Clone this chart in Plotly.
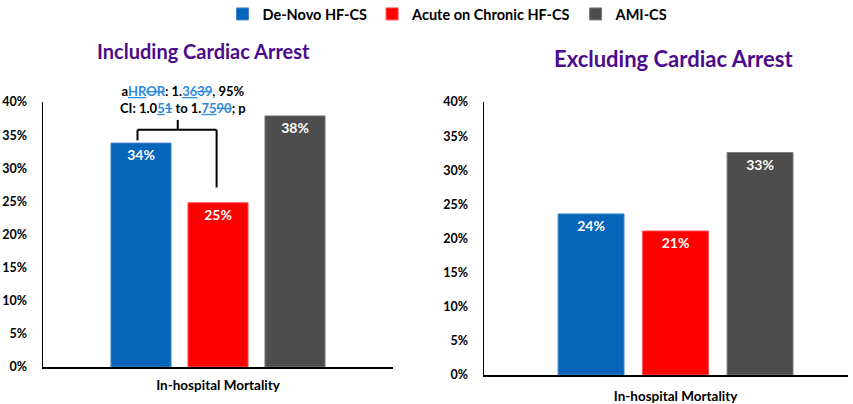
import plotly.graph_objects as go

# ---------------- data ----------------
series_names = ["De-Novo HF-CS", "Acute on Chronic HF-CS", "AMI-CS"]
series_colors = ["#0565BA", "#FF0000", "#4D4D4D"]
series_edges = ["#3F86CC", "#FF5050", "#7A7A7A"]
category = ["In-hospital Mortality"]
incl_values = [0.338, 0.248, 0.379]   # Including cardiac arrest
excl_values = [0.236, 0.211, 0.326]   # Excluding cardiac arrest
y_ticks = [0, 0.05, 0.10, 0.15, 0.20, 0.25, 0.30, 0.35, 0.40]
panel_titles = ["Including Cardiac Arrest", "Excluding Cardiac Arrest"]

FONT = "Lato"
W, H = 853, 404

fig = go.Figure()

for i, (name, col, edge) in enumerate(zip(series_names, series_colors, series_edges)):
    fig.add_trace(go.Bar(
        x=category, y=[incl_values[i]], name=name, legendgroup=name,
        marker=dict(color=col, line=dict(color=edge, width=1)),
        texttemplate="%{y:.0%}", textposition="inside", insidetextanchor="end",
        textangle=0,
        insidetextfont=dict(color="white", size=14, family=FONT, weight="bold"),
        xaxis="x", yaxis="y", showlegend=True, hoverinfo="skip"))
    fig.add_trace(go.Bar(
        x=category, y=[excl_values[i]], name=name, legendgroup=name,
        marker=dict(color=col, line=dict(color=edge, width=1)),
        texttemplate="%{y:.0%}", textposition="inside", insidetextanchor="end",
        textangle=0,
        insidetextfont=dict(color="white", size=14, family=FONT, weight="bold"),
        xaxis="x2", yaxis="y2", showlegend=False, hoverinfo="skip"))

tickfont = dict(family=FONT, size=13.5, color="black", weight="bold")
ytickfont = dict(family=FONT, size=12.5, color="black", weight="bold")
yaxis_common = dict(range=[0, 0.40], tickvals=y_ticks, tickformat=".0%",
                    showgrid=False, zeroline=False, showline=True,
                    linecolor="black", linewidth=1.5, ticks="", automargin=False,
                    ticklabelstandoff=12, tickfont=ytickfont, fixedrange=True)
xaxis_common = dict(type="category", showgrid=False, zeroline=False,
                    showline=True, linecolor="black", linewidth=1.5, ticks="",
                    automargin=False, tickfont=tickfont, fixedrange=True)

fig.update_layout(
    template="none",
    width=W, height=H,
    margin=dict(l=0, r=0, t=0, b=0, autoexpand=False),
    paper_bgcolor="white", plot_bgcolor="white",
    barmode="group", bargap=0.34, bargroupgap=0.22,
    font=dict(family=FONT, color="black"),
    xaxis=dict(domain=[43 / W, 393 / W], anchor="y", range=[-0.5, 0.5],
               ticklabelstandoff=5, **xaxis_common),
    yaxis=dict(domain=[1 - 367 / H, 1 - 102 / H], anchor="x", **yaxis_common),
    xaxis2=dict(domain=[484 / W, 848 / W], anchor="y2", range=[-0.4987, 0.449],
                ticklabelstandoff=8, **xaxis_common),
    yaxis2=dict(domain=[1 - 375 / H, 1 - 102 / H], anchor="x2", **yaxis_common),
    legend=dict(orientation="h", x=448 / W, xanchor="center", y=1 - 14 / H,
                yanchor="middle", font=dict(family=FONT, size=14.5, color="black",
                                            weight="bold"),
                itemwidth=30, tracegroupgap=0, bgcolor="rgba(0,0,0,0)"),
    showlegend=True,
)

# panel titles
fig.add_annotation(text=panel_titles[0], xref="paper", yref="paper",
                   x=203 / W, y=1 - 51 / H, xanchor="center", yanchor="middle",
                   showarrow=False,
                   font=dict(family=FONT, size=20, color="#4B0C8C", weight="bold"))
fig.add_annotation(text=panel_titles[1], xref="paper", yref="paper",
                   x=673 / W, y=1 - 58 / H, xanchor="center", yanchor="middle",
                   showarrow=False,
                   font=dict(family=FONT, size=22, color="#4B0C8C", weight="bold"))

# comparison bracket (left panel, between De-Novo and Acute-on-Chronic)
bk = dict(type="line", xref="x", yref="y", line=dict(color="black", width=2))
left_x, right_x, mid_x = -0.23, -0.004, -0.115
bar_y, stem_top = 0.358, 0.373
fig.add_shape(x0=left_x, x1=right_x, y0=bar_y, y1=bar_y, **bk)
fig.add_shape(x0=left_x, x1=left_x, y0=bar_y, y1=0.342, **bk)
fig.add_shape(x0=right_x, x1=right_x, y0=bar_y, y1=0.271, **bk)
fig.add_shape(x0=mid_x, x1=mid_x, y0=bar_y, y1=stem_top, **bk)

blue = "#2E8BD8"
def ins(t):
    return f"<span style='color:{blue}'><u>{t}</u></span>"
def dele(t):
    return f"<span style='color:{blue}'><s>{t}</s></span>"

stat_text = ("a" + ins("HR") + dele("OR") + ": 1." + ins("36") + dele("39") + ", 95%"
             "<br>CI: 1.0" + ins("5") + dele("1") + " to 1." + ins("75") + dele("90") + "; p")
fig.add_annotation(text=stat_text, xref="paper", yref="paper",
                   x=182.5 / W, y=1 - 99 / H, xanchor="center", yanchor="middle",
                   showarrow=False, align="center",
                   font=dict(family=FONT, size=13, color="black", weight="bold"))

fig.write_html("out.html",
               config={"displayModeBar": False, "staticPlot": True},
               post_script="document.body.style.margin='0';"
                           "document.body.style.overflow='hidden';")
